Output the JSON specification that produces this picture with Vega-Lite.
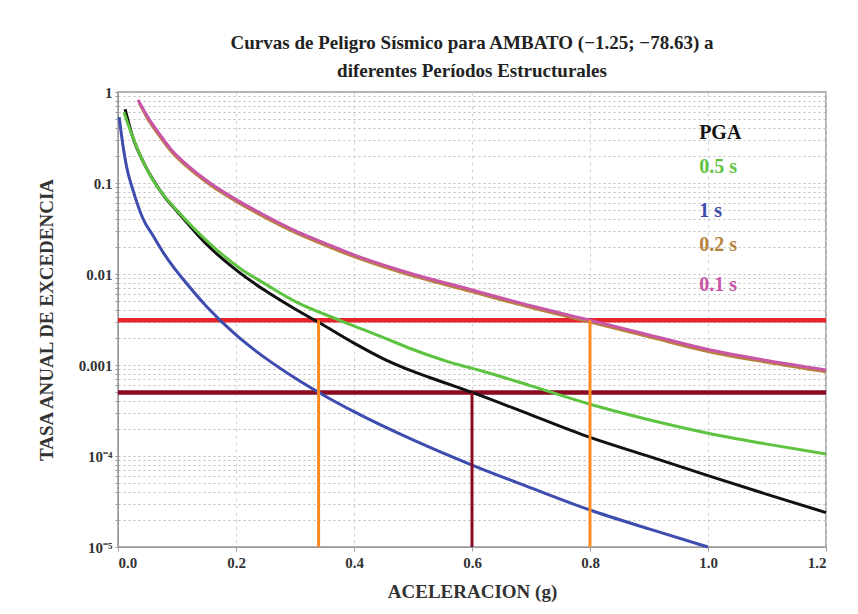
{
  "$schema": "https://vega.github.io/schema/vega-lite/v6.json",
  "autosize": {"type": "none"},
  "width": 708,
  "height": 455,
  "padding": {"left": 118, "top": 92, "right": 32, "bottom": 67},
  "background": "white",
  "title": {
    "text": ["Curvas de Peligro Sísmico para AMBATO (−1.25; −78.63) a", "diferentes  Períodos Estructurales"],
    "font": "Liberation Serif",
    "fontSize": 19,
    "fontWeight": "bold",
    "color": "#222",
    "anchor": "middle",
    "offset": 4,
    "lineHeight": 28
  },
  "datasets": {
    "curves": [
      {"s": "PGA", "x": 0.012, "y": 0.65},
      {"s": "PGA", "x": 0.025, "y": 0.32},
      {"s": "PGA", "x": 0.042, "y": 0.175},
      {"s": "PGA", "x": 0.06, "y": 0.107},
      {"s": "PGA", "x": 0.08, "y": 0.069},
      {"s": "PGA", "x": 0.1, "y": 0.049},
      {"s": "PGA", "x": 0.15, "y": 0.0212},
      {"s": "PGA", "x": 0.2, "y": 0.0111},
      {"s": "PGA", "x": 0.25, "y": 0.00653},
      {"s": "PGA", "x": 0.3, "y": 0.00412},
      {"s": "PGA", "x": 0.35, "y": 0.0027},
      {"s": "PGA", "x": 0.4, "y": 0.00174},
      {"s": "PGA", "x": 0.45, "y": 0.00117},
      {"s": "PGA", "x": 0.5, "y": 0.00085},
      {"s": "PGA", "x": 0.55, "y": 0.00065},
      {"s": "PGA", "x": 0.6, "y": 0.0005},
      {"s": "PGA", "x": 0.7, "y": 0.000283},
      {"s": "PGA", "x": 0.8, "y": 0.00016},
      {"s": "PGA", "x": 0.9, "y": 0.0000991},
      {"s": "PGA", "x": 1.0, "y": 0.0000608},
      {"s": "PGA", "x": 1.1, "y": 0.0000379},
      {"s": "PGA", "x": 1.2, "y": 0.0000239},
      {"s": "0.5 s", "x": 0.01, "y": 0.6},
      {"s": "0.5 s", "x": 0.025, "y": 0.32},
      {"s": "0.5 s", "x": 0.042, "y": 0.175},
      {"s": "0.5 s", "x": 0.06, "y": 0.106},
      {"s": "0.5 s", "x": 0.08, "y": 0.07},
      {"s": "0.5 s", "x": 0.1, "y": 0.05},
      {"s": "0.5 s", "x": 0.156, "y": 0.0215},
      {"s": "0.5 s", "x": 0.207, "y": 0.0115},
      {"s": "0.5 s", "x": 0.252, "y": 0.0076},
      {"s": "0.5 s", "x": 0.3, "y": 0.005},
      {"s": "0.5 s", "x": 0.376, "y": 0.0031},
      {"s": "0.5 s", "x": 0.45, "y": 0.002},
      {"s": "0.5 s", "x": 0.5, "y": 0.00148},
      {"s": "0.5 s", "x": 0.563, "y": 0.00107},
      {"s": "0.5 s", "x": 0.614, "y": 0.00087},
      {"s": "0.5 s", "x": 0.7, "y": 0.00059},
      {"s": "0.5 s", "x": 0.8, "y": 0.00037},
      {"s": "0.5 s", "x": 0.9, "y": 0.00025},
      {"s": "0.5 s", "x": 1.0, "y": 0.000178},
      {"s": "0.5 s", "x": 1.1, "y": 0.000135},
      {"s": "0.5 s", "x": 1.2, "y": 0.000105},
      {"s": "1 s", "x": 0.002, "y": 0.53},
      {"s": "1 s", "x": 0.008, "y": 0.27},
      {"s": "1 s", "x": 0.015, "y": 0.146},
      {"s": "1 s", "x": 0.025, "y": 0.085},
      {"s": "1 s", "x": 0.042, "y": 0.041},
      {"s": "1 s", "x": 0.06, "y": 0.026},
      {"s": "1 s", "x": 0.076, "y": 0.0175},
      {"s": "1 s", "x": 0.09, "y": 0.0129},
      {"s": "1 s", "x": 0.11, "y": 0.0088},
      {"s": "1 s", "x": 0.15, "y": 0.0044},
      {"s": "1 s", "x": 0.2, "y": 0.00214},
      {"s": "1 s", "x": 0.25, "y": 0.00119},
      {"s": "1 s", "x": 0.3, "y": 0.00072},
      {"s": "1 s", "x": 0.35, "y": 0.00046},
      {"s": "1 s", "x": 0.4, "y": 0.000307},
      {"s": "1 s", "x": 0.5, "y": 0.00015},
      {"s": "1 s", "x": 0.6, "y": 0.0000794},
      {"s": "1 s", "x": 0.7, "y": 0.0000446},
      {"s": "1 s", "x": 0.8, "y": 0.0000255},
      {"s": "1 s", "x": 0.9, "y": 0.0000158},
      {"s": "1 s", "x": 1.0, "y": 0.00001},
      {"s": "0.2 s", "x": 0.036, "y": 0.76},
      {"s": "0.2 s", "x": 0.05, "y": 0.513},
      {"s": "0.2 s", "x": 0.071, "y": 0.325},
      {"s": "0.2 s", "x": 0.09, "y": 0.223},
      {"s": "0.2 s", "x": 0.117, "y": 0.151},
      {"s": "0.2 s", "x": 0.156, "y": 0.0955},
      {"s": "0.2 s", "x": 0.207, "y": 0.0592},
      {"s": "0.2 s", "x": 0.25, "y": 0.0417},
      {"s": "0.2 s", "x": 0.3, "y": 0.0287},
      {"s": "0.2 s", "x": 0.35, "y": 0.0209},
      {"s": "0.2 s", "x": 0.4, "y": 0.0155},
      {"s": "0.2 s", "x": 0.478, "y": 0.0105},
      {"s": "0.2 s", "x": 0.597, "y": 0.00646},
      {"s": "0.2 s", "x": 0.7, "y": 0.00427},
      {"s": "0.2 s", "x": 0.8, "y": 0.00296},
      {"s": "0.2 s", "x": 0.9, "y": 0.00204},
      {"s": "0.2 s", "x": 1.0, "y": 0.00141},
      {"s": "0.2 s", "x": 1.1, "y": 0.00107},
      {"s": "0.2 s", "x": 1.2, "y": 0.00084},
      {"s": "0.1 s", "x": 0.034, "y": 0.82},
      {"s": "0.1 s", "x": 0.05, "y": 0.537},
      {"s": "0.1 s", "x": 0.071, "y": 0.34},
      {"s": "0.1 s", "x": 0.09, "y": 0.234},
      {"s": "0.1 s", "x": 0.117, "y": 0.158},
      {"s": "0.1 s", "x": 0.156, "y": 0.1},
      {"s": "0.1 s", "x": 0.207, "y": 0.062},
      {"s": "0.1 s", "x": 0.25, "y": 0.0437},
      {"s": "0.1 s", "x": 0.3, "y": 0.03},
      {"s": "0.1 s", "x": 0.35, "y": 0.0219},
      {"s": "0.1 s", "x": 0.4, "y": 0.0162},
      {"s": "0.1 s", "x": 0.478, "y": 0.011},
      {"s": "0.1 s", "x": 0.597, "y": 0.00676},
      {"s": "0.1 s", "x": 0.7, "y": 0.00447},
      {"s": "0.1 s", "x": 0.8, "y": 0.0031},
      {"s": "0.1 s", "x": 0.9, "y": 0.00214},
      {"s": "0.1 s", "x": 1.0, "y": 0.00148},
      {"s": "0.1 s", "x": 1.1, "y": 0.00112},
      {"s": "0.1 s", "x": 1.2, "y": 0.00088}
    ],
    "labels": [
      {"s": "PGA", "x": 0.985, "y": 0.355},
      {"s": "0.5 s", "x": 0.985, "y": 0.15},
      {"s": "1 s", "x": 0.985, "y": 0.049},
      {"s": "0.2 s", "x": 0.985, "y": 0.021},
      {"s": "0.1 s", "x": 0.985, "y": 0.0076}
    ],
    "hred": [{"y": 0.0031}],
    "hdark": [{"y": 0.0005}],
    "vorange": [{"x": 0.34, "y": 0.00001, "y2": 0.0031}, {"x": 0.8, "y": 0.00001, "y2": 0.0031}],
    "vdark": [{"x": 0.6, "y": 0.00001, "y2": 0.0005}]
  },
  "config": {
    "view": {"stroke": "#999", "strokeWidth": 1.5},
    "axis": {
      "labelFont": "Liberation Serif",
      "labelFontWeight": "bold",
      "labelFontSize": 15,
      "labelColor": "#333",
      "titleFont": "Liberation Serif",
      "titleFontWeight": "bold",
      "titleFontSize": 19,
      "titleColor": "#333",
      "domainColor": "#999",
      "tickColor": "#999",
      "gridColor": "#c8c8c8"
    }
  },
  "layer": [
    {
      "data": {"name": "hred"},
      "mark": {"type": "rule", "color": "#e8242b", "strokeWidth": 4.5},
      "encoding": {
        "y": {
          "field": "y", "type": "quantitative",
          "scale": {"type": "log", "domain": [0.00001, 1], "nice": false},
          "axis": {
            "title": "TASA ANUAL DE EXCEDENCIA",
            "titlePadding": 22,
            "values": [0.00001,0.00002,0.00003,0.00004,0.00005,0.00006,0.00007,0.00008,0.00009,0.0001,0.0002,0.0003,0.0004,0.0005,0.0006,0.0007,0.0008,0.0009,0.001,0.002,0.003,0.004,0.005,0.006,0.007,0.008,0.009,0.01,0.02,0.03,0.04,0.05,0.06,0.07,0.08,0.09,0.1,0.2,0.3,0.4,0.5,0.6,0.7,0.8,0.9,1],
            "labelExpr": "datum.value==1?'1':datum.value==0.1?'0.1':datum.value==0.01?'0.01':datum.value==0.001?'0.001':datum.value==0.0001?'10⁻⁴':datum.value==0.00001?'10⁻⁵':''",
            "tickSize": 3,
            "labelPadding": 3,
            "gridDash": [2, 3],
            "gridColor": "#bdbdbd"
          }
        }
      }
    },
    {
      "data": {"name": "hdark"},
      "mark": {"type": "rule", "color": "#8a0a22", "strokeWidth": 4.5},
      "encoding": {"y": {"field": "y", "type": "quantitative"}}
    },
    {
      "data": {"name": "curves"},
      "mark": {"type": "line", "interpolate": "monotone"},
      "encoding": {
        "x": {
          "field": "x", "type": "quantitative",
          "scale": {"domain": [0, 1.2], "nice": false},
          "axis": {
            "title": "ACELERACION (g)",
            "values": [0, 0.2, 0.4, 0.6, 0.8, 1.0, 1.2],
            "format": ".1f",
            "tickSize": 4,
            "titlePadding": 12,
            "labelPadding": 4,
            "gridDash": [3, 4],
            "gridColor": "#d0d0d0"
          }
        },
        "y": {"field": "y", "type": "quantitative"},
        "detail": {"field": "s"},
        "order": {"field": "x", "type": "quantitative"},
        "color": {
          "field": "s", "type": "nominal",
          "scale": {"domain": ["PGA", "0.5 s", "1 s", "0.2 s", "0.1 s"], "range": ["#111111", "#5ec340", "#3d4cae", "#b8823c", "#c855a6"]},
          "legend": null
        },
        "strokeWidth": {
          "field": "s", "type": "nominal",
          "scale": {"domain": ["PGA", "0.5 s", "1 s", "0.2 s", "0.1 s"], "range": [3, 3, 3, 4, 4.5]},
          "legend": null
        }
      }
    },
    {
      "data": {"name": "vorange"},
      "mark": {"type": "rule", "color": "#ff8a22", "strokeWidth": 3},
      "encoding": {
        "x": {"field": "x", "type": "quantitative"},
        "y": {"field": "y", "type": "quantitative"},
        "y2": {"field": "y2"}
      }
    },
    {
      "data": {"name": "vdark"},
      "mark": {"type": "rule", "color": "#8a0a22", "strokeWidth": 3},
      "encoding": {
        "x": {"field": "x", "type": "quantitative"},
        "y": {"field": "y", "type": "quantitative"},
        "y2": {"field": "y2"}
      }
    },
    {
      "data": {"name": "labels"},
      "mark": {"type": "text", "align": "left", "baseline": "middle", "font": "Liberation Serif", "fontWeight": "bold", "fontSize": 20},
      "encoding": {
        "x": {"field": "x", "type": "quantitative"},
        "y": {"field": "y", "type": "quantitative"},
        "text": {"field": "s"},
        "color": {"field": "s", "type": "nominal", "legend": null}
      }
    }
  ]
}
